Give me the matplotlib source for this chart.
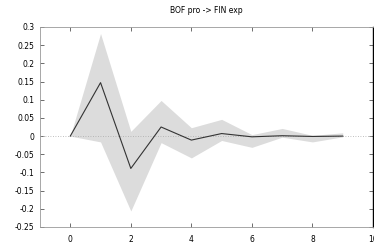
import matplotlib
matplotlib.use("Agg")
import matplotlib.pyplot as plt

steps = [0, 1, 2, 3, 4, 5, 6, 7, 8, 9]
response = [0.0, 0.147, -0.089, 0.025, -0.011, 0.007, -0.002, 0.001, -0.001, 0.0]
upper = [0.0, 0.282, 0.013, 0.098, 0.023, 0.046, 0.004, 0.021, 0.002, 0.009]
lower = [0.0, -0.016, -0.206, -0.018, -0.06, -0.012, -0.031, -0.003, -0.016, -0.002]
title = "BOF pro -> FIN exp"
xticks = [0, 2, 4, 6, 8, 10]
yticks = [0.3, 0.25, 0.2, 0.15, 0.1, 0.05, 0, -0.05, -0.1, -0.15, -0.2, -0.25]
ytick_labels = ["0.3", "0.25", "0.2", "0.15", "0.1", "0.05", "0", "-0.05", "-0.1", "-0.15", "-0.2", "-0.25"]

plt.rcParams['font.family'] = ['DejaVu Sans']
fig = plt.figure(figsize=(3.74, 2.46), dpi=100)
ax = fig.add_axes([40/374, 1 - 227/246, 333/374, 200/246])

ax.fill_between(steps, lower, upper, color="#dcdcdc", linewidth=0)
ax.axhline(0, color="#aaaaaa", linewidth=0.6, linestyle=(0, (1, 2)))
ax.plot(steps, response, color="#333333", linewidth=0.8)

ax.set_xlim(-1, 10)
ax.set_ylim(-0.25, 0.3)
ax.set_xticks(xticks)
ax.set_xticklabels([str(t) for t in xticks])
ax.set_yticks(yticks)
ax.set_yticklabels(ytick_labels)
ax.tick_params(direction="in", length=3, width=0.6, colors="#555555", labelsize=5.5,
               top=True, right=True, labelcolor="black", pad=4)
ax.tick_params(axis="x", pad=6)
for side in ["left", "top", "bottom"]:
    ax.spines[side].set_color("#999999")
    ax.spines[side].set_linewidth(0.6)
ax.spines["right"].set_color("black")
ax.spines["right"].set_linewidth(1.0)
ax.set_title(title, fontsize=5.5, pad=10)

fig.savefig("out.png", dpi=100)
